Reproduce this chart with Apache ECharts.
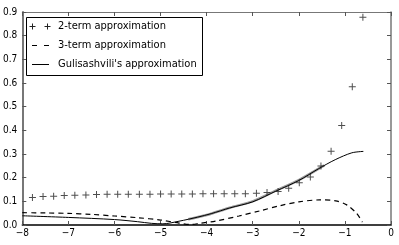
<!DOCTYPE html>
<html>
<head>
<meta charset="utf-8">
<script src="https://cdn.jsdelivr.net/npm/echarts@6/dist/echarts.min.js"></script>
<style>html,body{margin:0;padding:0;background:#fff}#c{width:399px;height:245px}</style>
</head>
<body>
<div id="c"></div>
<script>
var FONT = '"DejaVu Sans Condensed", "Liberation Sans Narrow", "Liberation Sans", sans-serif';

var legendNames = ["2-term approximation", "3-term approximation", "Gulisashvili's approximation"];
var xTicks = [-8, -7, -6, -5, -4, -3, -2, -1, 0];
var yTicks = [0, 0.1, 0.2, 0.3, 0.4, 0.5, 0.6, 0.7, 0.8, 0.9];

var twoTermX = [-7.78, -7.55, -7.32, -7.09, -6.86, -6.62, -6.39, -6.16, -5.93, -5.70, -5.46, -5.23, -5.00, -4.77, -4.54, -4.31,
                -4.08, -3.85, -3.62, -3.39, -3.16, -2.92, -2.69, -2.45, -2.22, -1.99, -1.75, -1.52, -1.30, -1.07, -0.84, -0.61];
var twoTermY = [0.116, 0.120, 0.122, 0.125, 0.126, 0.127, 0.129, 0.130, 0.130, 0.130, 0.130, 0.130, 0.131, 0.131, 0.131, 0.131,
                0.132, 0.132, 0.132, 0.132, 0.132, 0.134, 0.137, 0.142, 0.155, 0.178, 0.203, 0.249, 0.312, 0.420, 0.584, 0.878];

var threeTermX = [-8, -7.5, -7.0, -6.5, -6.0, -5.5, -5.0, -4.6, -4.35, -4.15, -3.8, -3.3, -2.84, -2.4, -2.0, -1.55, -1.2, -0.96, -0.75, -0.62];
var threeTermY = [0.052, 0.051, 0.049, 0.045, 0.038, 0.031, 0.021, 0.008, 0.002, 0.007, 0.017, 0.038, 0.060, 0.082, 0.098, 0.106, 0.102, 0.085, 0.050, 0.012];

var guliX = [-8, -7, -6, -5.5, -5.2, -4.95, -4.6, -4.2, -3.9, -3.5, -3.0, -2.5, -2.0, -1.57, -1.21, -0.85, -0.6];
var guliY = [0.039, 0.032, 0.023, 0.014, 0.007, 0.005, 0.016, 0.033, 0.048, 0.072, 0.098, 0.143, 0.188, 0.238, 0.276, 0.305, 0.311];

var grayX = [-4.4, -4.0, -3.5, -3.0, -2.5, -2.0, -1.45];
var grayY = [0.024, 0.042, 0.073, 0.100, 0.145, 0.190, 0.252];

function pairs(xs, ys) { return xs.map(function (x, i) { return [x, ys[i]]; }); }

var chart = echarts.init(document.getElementById('c'), null, {renderer: 'canvas'});
var grid = {left: 22, right: 8, top: 12, bottom: 20};
var plusPath = 'path://M3,0 h1 v3 h3 v1 h-3 v3 h-1 v-3 h-3 v-1 h3 z';

function plusGraphic(cx, cy) {
  return [
    {type: 'line', shape: {x1: cx - 3, y1: cy, x2: cx + 3, y2: cy}, style: {stroke: '#222', lineWidth: 1}, z: 11},
    {type: 'line', shape: {x1: cx, y1: cy - 3, x2: cx, y2: cy + 3}, style: {stroke: '#222', lineWidth: 1}, z: 11}
  ];
}

chart.setOption({
  animation: false,
  backgroundColor: '#fff',
  grid: grid,
  xAxis: [{
    type: 'value', min: -8, max: 0, interval: 1, position: 'bottom',
    axisLine: {onZero: false, lineStyle: {color: '#000', width: 1.5}},
    axisTick: {inside: true, length: 4, lineStyle: {color: '#555'}},
    splitLine: {show: false},
    axisLabel: {color: '#000', fontFamily: FONT, fontSize: 10, margin: 3,
      formatter: function (v) { return v < 0 ? '\u2212' + Math.abs(v) : String(v); }}
  }, {
    type: 'value', min: -8, max: 0, interval: 1, position: 'top',
    axisLine: {onZero: false, lineStyle: {color: '#777', width: 1}},
    axisTick: {inside: true, length: 4, lineStyle: {color: '#555'}},
    splitLine: {show: false}, axisLabel: {show: false}
  }],
  yAxis: [{
    type: 'value', min: 0, max: 0.9, interval: 0.1, position: 'left',
    axisLine: {onZero: false, lineStyle: {color: '#777', width: 2}},
    axisTick: {inside: true, length: 4, lineStyle: {color: '#555'}},
    splitLine: {show: false},
    axisLabel: {color: '#000', fontFamily: FONT, fontSize: 10, margin: 5,
      formatter: function (v) { return v.toFixed(1); }}
  }, {
    type: 'value', min: 0, max: 0.9, interval: 0.1, position: 'right',
    axisLine: {onZero: false, lineStyle: {color: '#777', width: 1.5}},
    axisTick: {inside: true, length: 4, lineStyle: {color: '#555'}},
    splitLine: {show: false}, axisLabel: {show: false}
  }],
  series: [{
    name: 'gray', type: 'line', data: pairs(grayX, grayY), showSymbol: false, smooth: 0.3,
    lineStyle: {color: '#9a9a9a', width: 2.5}, z: 1
  }, {
    name: legendNames[2], type: 'line', data: pairs(guliX, guliY), showSymbol: false, smooth: 0.3,
    lineStyle: {color: '#000', width: 1}, z: 3
  }, {
    name: legendNames[1], type: 'line', data: pairs(threeTermX, threeTermY), showSymbol: false, smooth: 0.3,
    lineStyle: {color: '#000', width: 1.2, type: [5, 4]}, z: 3
  }, {
    name: legendNames[0], type: 'scatter', data: pairs(twoTermX, twoTermY),
    symbol: plusPath, symbolSize: 7, itemStyle: {color: '#222'}, z: 4
  }],
  graphic: [
    {type: 'rect', shape: {x: 26.5, y: 17.5, width: 176, height: 58}, style: {fill: '#fff', stroke: '#000', lineWidth: 1}, z: 10}
  ].concat(plusGraphic(32.5, 26.5), plusGraphic(47.5, 26.5), [
    {type: 'line', shape: {x1: 32, y1: 45.5, x2: 49, y2: 45.5}, style: {stroke: '#000', lineWidth: 1.2, lineDash: [5, 7]}, z: 11},
    {type: 'line', shape: {x1: 32, y1: 64.5, x2: 49, y2: 64.5}, style: {stroke: '#000', lineWidth: 1}, z: 11},
    {type: 'text', x: 58, y: 26.5, style: {text: legendNames[0], fontSize: 11, fill: '#000', fontFamily: FONT, verticalAlign: 'middle'}, z: 11},
    {type: 'text', x: 58, y: 45.5, style: {text: legendNames[1], fontSize: 11, fill: '#000', fontFamily: FONT, verticalAlign: 'middle'}, z: 11},
    {type: 'text', x: 58, y: 64.5, style: {text: legendNames[2], fontSize: 11, fill: '#000', fontFamily: FONT, verticalAlign: 'middle'}, z: 11}
  ])
});
</script>
</body>
</html>
